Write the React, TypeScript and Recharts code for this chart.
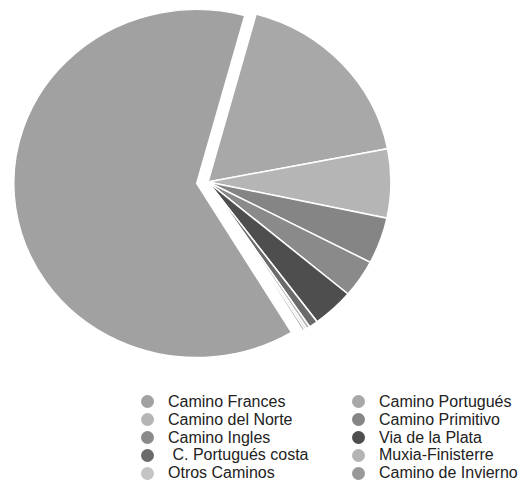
import { PieChart, Pie, Cell, Legend } from "recharts";

const caminos = [
  "Camino Frances",
  "Camino Portugués",
  "Camino del Norte",
  "Camino Primitivo",
  "Camino Ingles",
  "Via de la Plata",
  " C. Portugués costa",
  "Muxia-Finisterre",
  "Otros Caminos",
  "Camino de Invierno",
];
const shares = [62.9, 17.7, 6.4, 4.3, 3.5, 3.7, 0.8, 0.3, 0.2, 0.2];
const colors = [
  "#a1a1a1",
  "#a8a8a8",
  "#b5b5b5",
  "#858585",
  "#8a8a8a",
  "#4e4e4e",
  "#6b6b6b",
  "#b4b4b4",
  "#c4c4c4",
  "#999999",
];

const data = caminos.map((name, i) => ({ name, value: shares[i] }));
// Frances gets pulled out of the pie, so it is drawn by a second pie on its own
const restTotal = shares.slice(1).reduce((a, b) => a + b, 0);
const exploded = [
  { name: caminos[0], value: shares[0] },
  { name: "rest", value: restTotal },
];

const START = -58.8;

function LegendGrid() {
  return (
    <div
      style={{
        display: "grid",
        gridTemplateColumns: "211px 211px",
        fontFamily: "'Liberation Sans', Arial, sans-serif",
        fontSize: 16,
        lineHeight: "17.8px",
        color: "#222",
      }}
    >
      {caminos.map((name, i) => (
        <div key={name} style={{ display: "flex", alignItems: "center", whiteSpace: "pre" }}>
          <span
            style={{
              display: "inline-block",
              width: 13,
              height: 13,
              borderRadius: "50%",
              background: colors[i],
              marginRight: 14,
            }}
          />
          {name}
        </div>
      ))}
    </div>
  );
}

export default function App() {
  return (
    <div>
      {/* the original pie is a bit wider than tall */}
      <style>{`.recharts-pie { transform: scale(1.025, 0.975); transform-origin: 200px 174px; }`}</style>
      <PieChart width={512} height={476} margin={{ top: 0, right: 0, bottom: 0, left: 0 }}>
        <Pie
          data={data}
          dataKey="value"
          nameKey="name"
          cx={200}
          cy={174}
          outerRadius={178.5}
          startAngle={START}
          endAngle={START - 360}
          stroke="#ffffff"
          strokeWidth={1.5}
          isAnimationActive={false}
        >
          {data.map((d, i) => (
            <Cell key={d.name} fill={i === 0 ? "none" : colors[i]} stroke={i === 0 ? "none" : "#ffffff"} />
          ))}
        </Pie>
        <Pie
          data={exploded}
          dataKey="value"
          nameKey="name"
          cx={189}
          cy={175.5}
          outerRadius={178.5}
          startAngle={START}
          endAngle={START - 360}
          stroke="#ffffff"
          strokeWidth={1.5}
          isAnimationActive={false}
        >
          <Cell fill={colors[0]} />
          <Cell fill="none" stroke="none" />
        </Pie>
        <Legend
          content={() => <LegendGrid />}
          wrapperStyle={{ position: "absolute", left: 133, top: 385, width: 430 }}
        />
      </PieChart>
    </div>
  );
}
